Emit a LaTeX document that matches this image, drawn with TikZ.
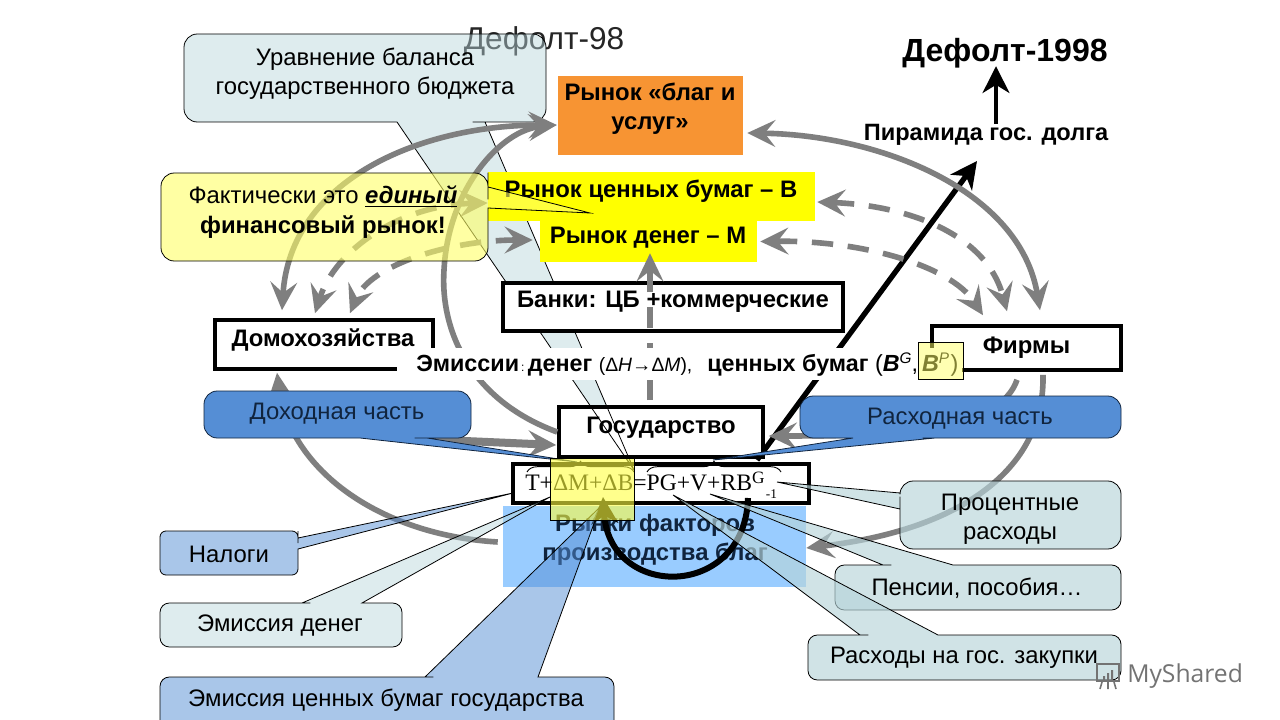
\documentclass[tikz,border=0pt]{standalone}
\usepackage{fontspec}
\setmainfont{Liberation Sans}
\newfontfamily\eqfont{Liberation Serif}
\newfontfamily\markfont{Open Sans}
\usetikzlibrary{arrows.meta,decorations.pathreplacing}
\definecolor{grayarrow}{HTML}{7F7F7F}
\definecolor{orangebox}{HTML}{F79433}
\definecolor{marketyellow}{HTML}{FFFF00}
\definecolor{factorblue}{HTML}{99CCFF}
\definecolor{midblue}{HTML}{558ED5}
\definecolor{paleteal}{HTML}{B7D5DA}
\definecolor{paleyellow}{HTML}{FFFF66}
\definecolor{navytext}{HTML}{10243E}
\newcommand\rr{10pt}
% style, L,T,R,B, t1,t2, apex
\newcommand\tailbottom[8]{\path[#1] (#7,#5) -- (#8) -- (#6,#5) -- (#6-1,#5) [rounded corners=\rr] -- (#2,#5) -- (#2,#3) -- (#4,#3) -- (#4,#5) -- (#7+1,#5) [sharp corners] -- cycle;}
\newcommand\tailtop[8]{\path[#1] (#6,#3) -- (#8) -- (#7,#3) -- (#7+1,#3) [rounded corners=\rr] -- (#4,#3) -- (#4,#5) -- (#2,#5) -- (#2,#3) -- (#6-1,#3) [sharp corners] -- cycle;}
\newcommand\tailright[8]{\path[#1] (#4,#6) -- (#8) -- (#4,#7) -- (#4,#7+1) [rounded corners=\rr] -- (#4,#5) -- (#2,#5) -- (#2,#3) -- (#4,#3) -- (#4,#6-1) [sharp corners] -- cycle;}
\newcommand\tailleft[8]{\path[#1] (#2,#7) -- (#8) -- (#2,#6) -- (#2,#6-1) [rounded corners=\rr] -- (#2,#3) -- (#4,#3) -- (#4,#5) -- (#2,#5) -- (#2,#7+1) [sharp corners] -- cycle;}
\tikzset{
  x=0.75pt,y=-0.75pt,
  boxsize/.style 2 args={minimum width=#1*0.75pt,minimum height=#2*0.75pt,inner sep=0pt},
  market/.style={align=center,font=\fontsize{17.9}{22}\selectfont\bfseries,text=black,inner sep=0pt},
  framed/.style={draw=black,line width=2.7pt,fill=white},
  caltext/.style={align=center,font=\fontsize{17.9}{22}\selectfont,text=black,inner sep=0pt},
  calline/.style={draw=black,line width=0.6pt},
  calsolid/.style={calline,draw=navytext,fill=midblue},
  calblue/.style={calline,fill=midblue,fill opacity=0.5},
  calteal/.style={calline,fill=paleteal,fill opacity=0.65},
  calpale/.style={calline,fill=paleteal,fill opacity=0.45},
  calyellow/.style={calline,fill=paleyellow,fill opacity=0.6},
  grayline/.style={draw=grayarrow,line width=4.2pt},
  graytip/.style={-{Stealth[length=21pt,width=20pt,inset=8pt]}},
  graytips/.style={{Stealth[length=21pt,width=20pt,inset=8pt]}-{Stealth[length=21pt,width=20pt,inset=8pt]}},
  graydash/.style={grayline,dash pattern=on 16pt off 11pt},
  blackline/.style={draw=black,line width=4pt},
  blacktip/.style={-{Stealth[length=20pt,width=20pt,inset=6pt]}},
  bracepath/.style={draw=black,line width=0.7pt,decorate,decoration={brace,amplitude=8pt,aspect=0.5}}
}
\begin{document}
\begin{tikzpicture}
\useasboundingbox (0,0) rectangle (1280,720);
\clip (0,0) rectangle (1280,720);
\fill[white] (0,0) rectangle (1280,720);
% titles
\node[inner sep=0pt,font=\fontsize{23.7}{28}\selectfont,text=black!85] (title98) at (544,41) {Дефолт-98};
\node[inner sep=0pt,font=\fontsize{24}{28}\selectfont\bfseries] (title1998) at (1005,53) {Дефолт-1998};
\node[inner sep=0pt,font=\fontsize{17.7}{20}\selectfont\bfseries] (pyramid) at (986,135) {Пирамида гос. долга};
\coordinate (pyramidtip) at (977,161);
\coordinate (debtstart) at (757,460);
% factors market
\node[boxsize={303}{81},fill=factorblue] (factors) at (654.5,546.5) {};
\node[market,text=navytext] (factorstext) at (655,540) {Рынки факторов\\производства благ};
% budget callout
\tailbottom{calpale}{184}{34}{546}{122}{397}{485}{634,470}
\node[caltext] (budget) at (365,74) {Уравнение баланса\\государственного бюджета};
% markets
\node[boxsize={185}{79},fill=orangebox] (goods) at (650.5,115.5) {};
\node[market] (goodstext) at (650,109) {Рынок «благ и\\услуг»};
\node[boxsize={327}{49},fill=marketyellow] (bonds) at (651.5,196.5) {};
\node[market] (bondstext) at (651,191.5) {Рынок ценных бумаг – В};
\node[boxsize={217}{41},fill=marketyellow] (money) at (648.5,241.5) {};
\node[market] (moneytext) at (648,237.5) {Рынок денег – М};
\node[boxsize={340}{48},framed] (banks) at (673,307) {};
\node[market] (bankstext) at (673,301.5) {Банки: ЦБ +коммерческие};
\node[boxsize={218}{49},framed] (house) at (324,344.5) {};
\node[market] (housetext) at (323,339.5) {Домохозяйства};
\node[boxsize={189}{44},framed] (firms) at (1026.5,348) {};
\node[market] (firmstext) at (1026.5,347.5) {Фирмы};
% black pyramid arrow
\draw[blackline,blacktip] (debtstart) -- (pyramidtip);
\draw[blackline,blacktip,line width=3.6pt] ([shift={(10,0)}]pyramid.north) -- ([shift={(-9,-2)}]title1998.south);
% state and equation
\node[boxsize={204}{50},framed] (state) at (661,432) {};
\node[market] (statetext) at (661,428) {Государство};
\node[boxsize={296}{39},framed] (equation) at (661,483.5) {};
\node[inner sep=0pt,anchor=west,font=\eqfont\fontsize{17.7}{20}\selectfont] (eqtext) at (525,485) {T+ΔM+ΔB=PG+V+RB\raisebox{5pt}{\fontsize{13}{14}\selectfont G}\hspace{1pt}\raisebox{-6pt}{\fontsize{10}{12}\selectfont -1}};
\draw[bracepath] (527,472) -- (634,472);
\draw[bracepath] (647,472) -- (781,472);
% black loop
\draw[blackline,blacktip,line width=4.5pt] ([shift={(87,14.5)}]equation.center) .. controls (745,600) and (610,600) .. ([shift={(-58,13.5)}]equation.center);
% grey solid arrows
\draw[grayline,graytips] ([shift={(4,17.5)}]goods.east) .. controls (880,135) and (1020,190) .. ([shift={(13.5,-14)}]firms.north);
\draw[grayline,graytips] ([shift={(-1,9.5)}]goods.west) .. controls (420,125) and (290,180) .. ([shift={(-42,-8)}]house.north);
\draw[grayline,graytip] (state.west) .. controls (470,400) and (440,330) .. (444,270) .. controls (448,190) and (500,130) .. ([shift={(-1,9.5)}]goods.west);
\draw[grayline,graytip] ([shift={(16.5,3)}]firms.south) .. controls (1045,470) and (960,530) .. ([shift={(0,1.5)}]factors.east);
\draw[grayline,graytip] ([shift={(-9.5,8)}]firms.south) .. controls (1000,430) and (900,436) .. ([shift={(4,4)}]state.east);
\draw[grayline,graytip] ([shift={(-5,-4.5)}]factors.west) .. controls (380,535) and (290,470) .. ([shift={(-47,2)}]house.south);
% grey dashed arrows
\draw[graydash,graytips] ([shift={(0,6.5)}]bonds.west) .. controls (400,205) and (335,250) .. ([shift={(-9,-5)}]house.north);
\draw[graydash,graytips] ([shift={(-7,-1.5)}]money.west) .. controls (450,240) and (370,265) .. ([shift={(26,-5)}]house.north);
\draw[graydash,graytips] ([shift={(2,5.5)}]bonds.east) .. controls (900,205) and (985,230) .. ([shift={(-19.5,-13)}]firms.north);
\draw[graydash,graytips] ([shift={(3,0)}]money.east) .. controls (860,240) and (950,265) .. ([shift={(-43.5,-9)}]firms.north);
\draw[graydash,graytip] ([shift={(-11,-5)}]state.north) -- ([shift={(1.5,-9)}]money.south);
\draw[grayline,line width=6pt,graytip] ([shift={(60,25)}]337,413) -- ([shift={(-1,13)}]state.west);
% emission band
\node[boxsize={565}{32},fill=white] (band) at (679.5,364) {};
\node[inner sep=0pt,anchor=west,font=\fontsize{17.5}{18}\selectfont] (bandtext) at (416,365) {\textbf{Эмиссии}{\fontsize{9}{9}\selectfont\,:\,}\hspace{1pt}\textbf{денег} {\fontsize{14.5}{15}\selectfont(Δ\textit{H}→Δ\textit{M}),}\ \ \hspace{1.5pt}\textbf{ценных бумаг} (\textbf{\textit{B}}\raisebox{6pt}{\fontsize{11.5}{12}\selectfont\textit{G}},\hspace{3pt}\textbf{\textit{B}}\raisebox{6pt}{\fontsize{11.5}{12}\selectfont\textit{P}}\hspace{1pt})};
\path[calline,fill=paleyellow,fill opacity=0.5] (918,342) rectangle (963,379);
% remaining callouts
\tailright{calyellow}{161}{173}{488}{261}{187}{208}{590,213}
\node[caltext] (single) at (323,212) {Фактически это \underline{\textbf{\textit{единый}}}\\\textbf{финансовый рынок!}};
\tailbottom{calsolid}{204}{391}{471}{438}{360}{427}{577,462}
\node[caltext,text=navytext] (income) at (337,414) {Доходная часть};
\tailbottom{calsolid}{800}{396}{1121}{438}{853}{935}{713,460}
\node[caltext,text=navytext] (expense) at (960,419) {Расходная часть};
\renewcommand\rr{4.5pt}
\tailright{calblue}{160}{531}{298}{575}{538}{549}{513,493}
\node[caltext] (taxes) at (229,554) {Налоги};
\renewcommand\rr{7pt}
\tailtop{calpale}{160}{603}{402}{647}{302}{362}{550,497}
\node[caltext] (moneyissue) at (280,626) {Эмиссия денег};
\tailtop{calblue}{160}{677}{614}{735}{425}{538}{600,507}
\node[caltext] (bondissue) at (386,700) {Эмиссия ценных бумаг государства};
\renewcommand\rr{10pt}
\tailleft{calteal}{900}{481}{1121}{549}{493}{509}{777,482}
\node[caltext] (interest) at (1010,519) {Процентные\\расходы};
\renewcommand\rr{7pt}
\tailtop{calteal}{835}{565}{1121}{610}{883}{953}{710,494}
\node[caltext] (pensions) at (977,588) {Пенсии, пособия…};
\tailtop{calteal}{808}{635}{1121}{680}{860}{938}{673,495}
\node[caltext] (purchases) at (964,658) {Расходы на гос. закупки};
% budget tail lines over the state box
\draw[calline] (591,407) -- (634,470) -- (607,407);
% yellow overlay
\path[calline,fill=marketyellow!75!white,fill opacity=0.6] (550,458) rectangle (634,520);
% watermark
\draw[black!55,line width=1.5pt] (1097,664) rectangle (1119,681);
\fill[black!55] (1103,676) rectangle (1105,680) (1107,673) rectangle (1109,680) (1111,670) rectangle (1113,680);
\draw[black!55,line width=1.2pt] (1102,682) -- (1100,689) (1108,682) -- (1108,689) (1114,682) -- (1116,689);
\node[inner sep=0pt,anchor=west,text=black!55,font=\markfont\fontsize{18.5}{20}\selectfont] (watermark) at (1127,676) {MyShared};
\end{tikzpicture}
\end{document}
